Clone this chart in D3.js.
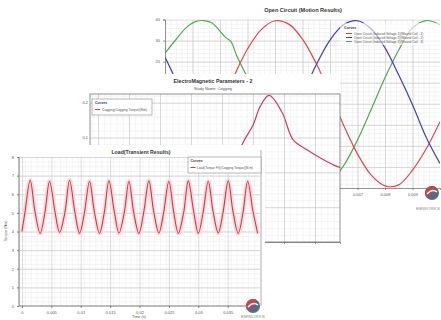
<!DOCTYPE html>
<html>
<head>
<meta charset="utf-8">
<script src="https://cdn.jsdelivr.net/npm/d3@7"></script>
<style>
  body { margin: 0; background: #fff; }
  svg { display: block; font-family: "Liberation Sans", Arial, sans-serif; }
</style>
</head>
<body>
<script>
// ---- Open Circuit (Motion Results) ----
var ocTime = [0, 0.0005, 0.001, 0.0015, 0.002, 0.0025, 0.003, 0.0035, 0.004, 0.0045, 0.005,
              0.0055, 0.006, 0.0065, 0.007, 0.0075, 0.008, 0.0085, 0.009, 0.0095, 0.01]
var ocRed  = [-39.5, -36.8, -28.8, -16.6, -2.0, 12.9, 26.0, 35.2, 39.4, 37.8, 30.7,
              19.1, 4.7, -10.3, -23.8, -33.9, -39.0, -38.5, -31.5, -21.4, -8.5]
var ocBlue = [22.2, 8.3, -6.8, -20.9, -31.9, -38.3, -39.1, -34.2, -24.4, -10.9, 4.1,
              18.5, 30.2, 37.6, 39.4, 35.5, 26.5, 13.6, -0.5, -16.0, -28.4]
var ocGreenTime = [0, 0.0004, 0.0008, 0.0011, 0.0014, 0.0017, 0.002, 0.0022, 0.0024, 0.0026, 0.0029,
                   0.0032, 0.0035, 0.004, 0.0045, 0.005, 0.0055, 0.006, 0.0065, 0.007, 0.0075,
                   0.008, 0.0085, 0.009, 0.0095, 0.01]
var ocGreen = [24, 30.5, 36.5, 39, 39.5, 38.5, 34.5, 31.5, 29.5, 23, 15,
               8, 0, -14.9, -27.5, -36.1, -39.5, -37.1, -29.3, -17.2, -2.6,
               12.3, 25.5, 36, 39.5, 37.5]
var ocXTicks  = [0.001, 0.002, 0.003, 0.004, 0.005, 0.006, 0.007, 0.008, 0.009, 0.01]
var ocXLabels = [0.001, 0.002, 0.003, 0.004, 0.005, 0.006, 0.007, 0.008, 0.009]
var ocYTicks = [-40, -30, -20, -10, 0, 10, 20, 30, 40]
var ocLegend = ['Open Circuit (Induced Voltage 1)(Wound Coil - 1)',
                'Open Circuit (Induced Voltage 2)(Wound Coil - 2)',
                'Open Circuit (Induced Voltage 3)(Wound Coil - 3)']
var ocColors = ['#e0474c', '#3f3fbf', '#52a852']

// ---- ElectroMagnetic Parameters - 2 (cogging) ----
var cogPos    = [4.2, 4.68, 5.0, 5.23, 5.52, 5.94, 6.29, 6.74, 7.26, 7.71, 7.9]
var cogTorque = [-0.02, 0.086, 0.135, 0.189, 0.221, 0.172, 0.094, 0.065, 0.037, 0.017, 0.012]
var cogYTicks = [0.1, 0.2]

// ---- Load (Transient Results) ----
var loadTime = [0,
  0.0005, 0.0014, 0.0022, 0.0031,  0.0039, 0.0047, 0.0056, 0.0064,
  0.0073, 0.0081, 0.0090, 0.0098,  0.0106, 0.0115, 0.0123, 0.0132,
  0.0140, 0.0148, 0.0157, 0.0165,  0.0174, 0.0182, 0.0190, 0.0199,
  0.0207, 0.0216, 0.0224, 0.0233,  0.0241, 0.0250, 0.0258, 0.0266,
  0.0275, 0.0283, 0.0292, 0.0300,  0.0308, 0.0317, 0.0325, 0.0334,
  0.0342, 0.0351, 0.0359, 0.0368,  0.0376, 0.0384, 0.0393, 0.0401]
var loadTorque = [4.0,
  5.0, 6.75, 5.1, 3.9,   5.0, 6.7, 5.1, 3.95,
  5.0, 6.75, 5.05, 3.9,  4.95, 6.7, 5.1, 3.9,
  5.0, 6.72, 5.1, 3.92,  5.0, 6.7, 5.05, 3.9,
  5.0, 6.72, 5.1, 3.92,  5.0, 6.7, 5.08, 3.9,
  5.0, 6.72, 5.1, 3.9,   4.98, 6.7, 5.1, 3.92,
  5.0, 6.72, 5.08, 3.9,  5.0, 6.7, 5.1, 3.9]
var loadXTicks  = [0, 0.005, 0.01, 0.015, 0.02, 0.025, 0.03, 0.035]
var loadXLabels = ['0', '0.005', '0.01', '0.015', '0.02', '0.025', '0.03', '0.035']
var loadYTicks  = [0, 1, 2, 3, 4, 5, 6, 7, 8]

var W = 441, H = 320
var svg = d3.select('body').append('svg').attr('width', W).attr('height', H)
svg.append('rect').attr('width', W).attr('height', H).attr('fill', '#fff')

var clipId = 0
function clipRect(x0, y0, w, h) {
  var id = 'c' + (clipId++)
  svg.append('clipPath').attr('id', id).append('rect')
    .attr('x', x0).attr('y', y0).attr('width', w).attr('height', h)
  return 'url(#' + id + ')'
}

// grid + frame for a plot area
function grid(g, x, y, xMinor, xMajor, yMinor, yMajor) {
  var x0 = x.range()[0], x1 = x.range()[1], y0 = y.range()[1], y1 = y.range()[0]
  var gg = g.append('g').attr('clip-path', clipRect(x0, y0, x1 - x0, y1 - y0))
  gg.append('rect').attr('x', x0).attr('y', y0).attr('width', x1 - x0).attr('height', y1 - y0).attr('fill', '#fff')
  var lines = [[xMinor, yMinor, '#ececec'], [xMajor, yMajor, '#c4c4c4']]
  lines.forEach(function(l) {
    gg.append('g').attr('transform', 'translate(0,' + y1 + ')')
      .call(d3.axisBottom(x).tickValues(l[0]).tickSize(-(y1 - y0)).tickFormat(''))
      .call(function(a){ a.select('.domain').remove(); a.selectAll('line').attr('stroke', l[2]).attr('stroke-width', 0.6) })
    gg.append('g').attr('transform', 'translate(' + x0 + ',0)')
      .call(d3.axisLeft(y).tickValues(l[1]).tickSize(-(x1 - x0)).tickFormat(''))
      .call(function(a){ a.select('.domain').remove(); a.selectAll('line').attr('stroke', l[2]).attr('stroke-width', 0.6) })
  })
  return gg
}

function logo(g, cx, cy, tx, ty, anchor) {
  g.append('circle').attr('cx', cx).attr('cy', cy).attr('r', 7).attr('fill', '#5a6a86')
  g.append('path').attr('d', d3.arc()({innerRadius: 0, outerRadius: 7, startAngle: -2.2, endAngle: 0.6}))
    .attr('transform', 'translate(' + cx + ',' + cy + ')').attr('fill', '#c9424a')
  g.append('path').attr('d', 'M' + (cx - 5) + ',' + (cy + 1) + ' Q' + cx + ',' + (cy - 5) + ' ' + (cx + 5) + ',' + (cy - 1))
    .attr('stroke', '#fff').attr('stroke-width', 1.4).attr('fill', 'none')
  g.append('text').attr('x', tx).attr('y', ty).attr('text-anchor', anchor)
    .attr('font-size', 4.3).attr('fill', '#8a8a8a').attr('letter-spacing', 0.2).text('EMWORKS')
}

// ================= top panel =================
var gTop = svg.append('g')
gTop.append('rect').attr('x', 150).attr('y', 1).attr('width', 300).attr('height', 218).attr('fill', '#fff')
var xOc = d3.scaleLinear().domain([0, 0.01]).range([165, 440])
var yOc = d3.scaleLinear().domain([-40, 40]).range([188, 19.5])
var gOc = grid(gTop, xOc, yOc, d3.range(0, 0.0101, 0.0002), ocXTicks, d3.range(-40, 41, 2), ocYTicks)
var lineOc = d3.line().curve(d3.curveCatmullRom).x(function(d){ return xOc(d[0]) }).y(function(d){ return yOc(d[1]) })
gOc.append('path').datum(ocGreenTime.map(function(t, i){ return [t, ocGreen[i]] }))
  .attr('d', lineOc).attr('fill', 'none').attr('stroke', ocColors[2]).attr('stroke-width', 1.2)
gOc.append('path').datum(ocTime.map(function(t, i){ return [t, ocRed[i]] }))
  .attr('d', lineOc).attr('fill', 'none').attr('stroke', ocColors[0]).attr('stroke-width', 1.2)
gOc.append('path').datum(ocTime.map(function(t, i){ return [t, ocBlue[i]] }))
  .attr('d', lineOc).attr('fill', 'none').attr('stroke', ocColors[1]).attr('stroke-width', 1.2)
gTop.append('g').attr('transform', 'translate(0,188)')
  .call(d3.axisBottom(xOc).tickValues(ocXLabels).tickSize(2).tickFormat(d3.format('.3f')))
  .call(function(a){ a.selectAll('text').attr('font-size', 4).attr('fill', '#555'); a.selectAll('path,line').attr('stroke', '#666').attr('stroke-width', 0.7) })
gTop.append('g').attr('transform', 'translate(165,0)')
  .call(d3.axisLeft(yOc).tickValues(ocYTicks).tickSize(2))
  .call(function(a){ a.selectAll('text').attr('font-size', 4).attr('fill', '#555'); a.selectAll('path,line').attr('stroke', '#666').attr('stroke-width', 0.7) })
gTop.append('text').attr('x', 303).attr('y', 12).attr('text-anchor', 'middle')
  .attr('font-size', 5.5).attr('font-weight', 'bold').attr('fill', '#333').text('Open Circuit (Motion Results)')
var lg = gTop.append('g')
lg.append('rect').attr('x', 340).attr('y', 23).attr('width', 102).attr('height', 22).attr('fill', '#fff').attr('fill-opacity', 0.6)
lg.append('text').attr('x', 344).attr('y', 29).attr('font-size', 3.6).attr('font-weight', 'bold').attr('fill', '#333').text('Curves')
ocLegend.forEach(function(s, i) {
  lg.append('line').attr('x1', 346).attr('x2', 352).attr('y1', 33.5 + i * 4).attr('y2', 33.5 + i * 4)
    .attr('stroke', ocColors[i]).attr('stroke-width', 1)
  lg.append('text').attr('x', 354).attr('y', 34.8 + i * 4).attr('font-size', 3.2).attr('fill', '#555').text(s)
})
logo(gTop, 432, 193, 440, 210, 'end')

// ================= middle panel =================
var gMid = svg.append('g')
gMid.append('rect').attr('x', 70).attr('y', 74).attr('width', 270).attr('height', 172).attr('fill', '#fff')
var xCog = d3.scaleLinear().domain([0, 8]).range([98, 346])
var yCog = d3.scaleLinear().domain([-0.2, 0.225]).range([242, 94])
var xCogC = d3.scaleLinear().domain([-0.258, 7.807]).range([90, 340])
var gCog = grid(gMid, xCogC, yCog, d3.range(-0.2, 7.81, 0.2), d3.range(0, 8, 1), d3.range(-0.2, 0.23, 0.02), [-0.2, -0.1, 0, 0.1, 0.2])
gCog.append('path').datum(cogPos.map(function(p, i){ return [p, cogTorque[i]] }))
  .attr('d', d3.line().curve(d3.curveCatmullRom).x(function(d){ return xCog(d[0]) }).y(function(d){ return yCog(d[1]) }))
  .attr('fill', 'none').attr('stroke', '#d23c56').attr('stroke-width', 1.2)
gMid.append('rect').attr('x', 90).attr('y', 94).attr('width', 250).attr('height', 148)
  .attr('fill', 'none').attr('stroke', '#777').attr('stroke-width', 0.8)
gMid.append('g').attr('transform', 'translate(0,242)')
  .call(d3.axisBottom(xCogC).tickValues(d3.range(0, 8, 1)).tickSize(2).tickFormat(''))
  .call(function(a){ a.selectAll('path,line').attr('stroke', '#666').attr('stroke-width', 0.7) })
cogYTicks.forEach(function(v) {
  gMid.append('text').attr('x', 88).attr('y', yCog(v) + 1.5).attr('text-anchor', 'end')
    .attr('font-size', 4).attr('fill', '#555').text(v.toFixed(1))
})
gMid.append('text').attr('x', 213).attr('y', 83).attr('text-anchor', 'middle')
  .attr('font-size', 5.3).attr('font-weight', 'bold').attr('fill', '#333').text('ElectroMagnetic Parameters - 2')
gMid.append('text').attr('x', 213).attr('y', 89.5).attr('text-anchor', 'middle')
  .attr('font-size', 3.9).attr('fill', '#555').text('Study Name: Cogging')
gMid.append('rect').attr('x', 92).attr('y', 99).attr('width', 60).attr('height', 16)
  .attr('fill', '#fff').attr('stroke', '#888').attr('stroke-width', 0.6)
gMid.append('text').attr('x', 95).attr('y', 104).attr('font-size', 3.6).attr('font-weight', 'bold').attr('fill', '#333').text('Curves')
gMid.append('line').attr('x1', 95).attr('x2', 100).attr('y1', 109.5).attr('y2', 109.5).attr('stroke', '#d23c56').attr('stroke-width', 1)
gMid.append('text').attr('x', 102).attr('y', 110.8).attr('font-size', 3.3).attr('fill', '#555').text('Cogging(Cogging Torque)(Nm)')

// ================= bottom panel =================
var gBot = svg.append('g')
gBot.append('rect').attr('x', 0).attr('y', 145).attr('width', 265).attr('height', 175).attr('fill', '#fff')
var xLoad = d3.scaleLinear().domain([-0.0005, 0.0405]).range([19, 260])
var yLoad = d3.scaleLinear().domain([0, 8]).range([306, 157])
var gLoad = grid(gBot, xLoad, yLoad, d3.range(-0.0005, 0.0406, 0.001), loadXTicks, d3.range(0, 8.01, 0.25), loadYTicks)
var lineLoad = d3.line().curve(d3.curveCatmullRom).x(function(d){ return xLoad(d[0]) }).y(function(d){ return yLoad(d[1]) })
var loadPts = loadTime.map(function(t, i){ return [t, loadTorque[i]] })
gLoad.append('path').datum(loadPts).attr('d', lineLoad).attr('fill', 'none')
  .attr('stroke', '#fbd9de').attr('stroke-width', 4.5).attr('stroke-linejoin', 'round')
gLoad.append('path').datum(loadPts).attr('d', lineLoad).attr('fill', 'none')
  .attr('stroke', '#d8343f').attr('stroke-width', 1.1)
gBot.append('line').attr('x1', 19).attr('x2', 19).attr('y1', 157).attr('y2', 306).attr('stroke', '#555').attr('stroke-width', 0.8)
gBot.append('line').attr('x1', 19).attr('x2', 260).attr('y1', 306).attr('y2', 306).attr('stroke', '#555').attr('stroke-width', 0.8)
gBot.append('line').attr('x1', 261).attr('x2', 261).attr('y1', 150).attr('y2', 306).attr('stroke', '#999').attr('stroke-width', 0.8)
gBot.append('g').attr('transform', 'translate(0,306)')
  .call(d3.axisBottom(xLoad).tickValues(loadXTicks).tickSize(2).tickFormat(function(d, i){ return loadXLabels[i] }))
  .call(function(a){ a.select('.domain').remove(); a.selectAll('text').attr('font-size', 4).attr('fill', '#555'); a.selectAll('line').attr('stroke', '#555').attr('stroke-width', 0.7) })
gBot.append('g').attr('transform', 'translate(19,0)')
  .call(d3.axisLeft(yLoad).tickValues(loadYTicks).tickSize(2))
  .call(function(a){ a.select('.domain').remove(); a.selectAll('text').attr('font-size', 4).attr('fill', '#555'); a.selectAll('line').attr('stroke', '#555').attr('stroke-width', 0.7) })
gBot.append('text').attr('x', 141).attr('y', 154).attr('text-anchor', 'middle')
  .attr('font-size', 5.2).attr('font-weight', 'bold').attr('fill', '#333').text('Load(Transient Results)')
gBot.append('text').attr('x', 139).attr('y', 318).attr('text-anchor', 'middle')
  .attr('font-size', 3.8).attr('fill', '#555').text('Time (s)')
gBot.append('text').attr('transform', 'translate(7,231) rotate(-90)').attr('text-anchor', 'middle')
  .attr('font-size', 3.8).attr('fill', '#555').text('Torque (Nm)')
gBot.append('rect').attr('x', 188).attr('y', 157).attr('width', 73).attr('height', 16)
  .attr('fill', '#fff').attr('stroke', '#888').attr('stroke-width', 0.6)
gBot.append('text').attr('x', 190.5).attr('y', 162).attr('font-size', 3.6).attr('font-weight', 'bold').attr('fill', '#333').text('Curves')
gBot.append('line').attr('x1', 190.5).attr('x2', 195.5).attr('y1', 167.5).attr('y2', 167.5).attr('stroke', '#d8343f').attr('stroke-width', 1)
gBot.append('text').attr('x', 197).attr('y', 168.8).attr('font-size', 3.2).attr('fill', '#555').text('Load(Torque Fit)(Cogging Torque)(N.m)')
logo(gBot, 253, 306, 253, 317.5, 'middle')
</script>
</body>
</html>
